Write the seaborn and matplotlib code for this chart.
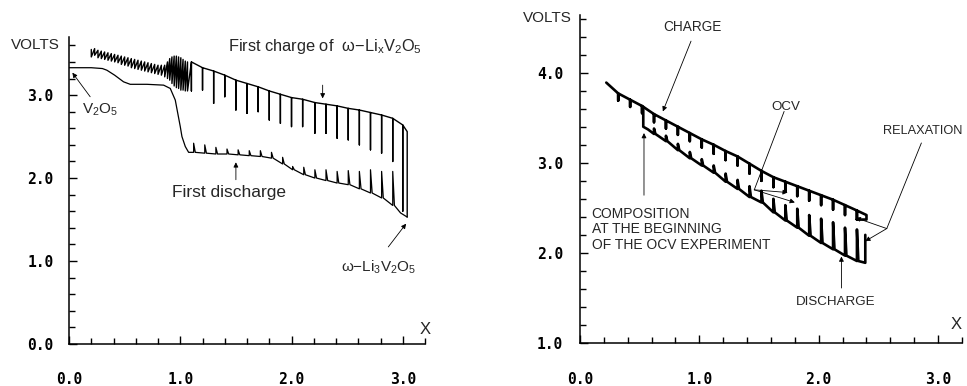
import numpy as np
import pandas as pd
import matplotlib
matplotlib.use("Agg")
import matplotlib.pyplot as plt
import seaborn as sns
from matplotlib.ticker import MultipleLocator

# ---------------- LEFT PANEL DATA ----------------
# first discharge: smooth part
dis_x = [0.00, 0.10, 0.20, 0.30, 0.34, 0.41, 0.49, 0.55, 0.70, 0.85, 0.91, 0.955, 1.00, 1.015, 1.045, 1.075, 1.10]
dis_v = [3.33, 3.33, 3.33, 3.32, 3.30, 3.24, 3.16, 3.13, 3.13, 3.12, 3.08, 2.94, 2.62, 2.50, 2.38, 2.31, 2.31]
# first discharge: relaxation spikes
dspk_x = [1.12, 1.22, 1.32, 1.42, 1.52, 1.62, 1.72, 1.82, 1.92, 2.01, 2.11, 2.21, 2.31, 2.41, 2.51, 2.61, 2.71, 2.81, 2.91]
dspk_base = [2.31, 2.30, 2.29, 2.29, 2.28, 2.27, 2.26, 2.24, 2.17, 2.10, 2.04, 2.00, 1.97, 1.94, 1.92, 1.87, 1.82, 1.76, 1.67]
dspk_top = [2.42, 2.40, 2.37, 2.35, 2.34, 2.33, 2.33, 2.31, 2.25, 2.14, 2.13, 2.10, 2.10, 2.08, 2.09, 2.08, 2.10, 2.08, 2.08]
dis_end_x = [2.98, 3.04]
dis_end_v = [1.58, 1.53]

# first charge: dense zig-zag region
zig_x = [0.20, 0.23, 0.26, 0.29, 0.32, 0.35, 0.38, 0.41, 0.44, 0.47, 0.50, 0.53, 0.56, 0.59, 0.62, 0.65,
         0.68, 0.71, 0.74, 0.77, 0.80, 0.83, 0.86, 0.885, 0.905, 0.925, 0.945, 0.965, 0.985, 1.005, 1.025,
         1.045, 1.065]
zig_top = [3.55, 3.56, 3.54, 3.53, 3.52, 3.51, 3.50, 3.49, 3.48, 3.47, 3.46, 3.45, 3.44, 3.43, 3.42, 3.41,
           3.40, 3.39, 3.38, 3.37, 3.36, 3.36, 3.36, 3.40, 3.44, 3.46, 3.47, 3.47, 3.46, 3.45, 3.43,
           3.41, 3.40]
zig_bot = [3.46, 3.48, 3.45, 3.44, 3.43, 3.42, 3.41, 3.40, 3.39, 3.37, 3.36, 3.35, 3.33, 3.32, 3.31, 3.30,
           3.29, 3.28, 3.27, 3.26, 3.25, 3.24, 3.22, 3.20, 3.18, 3.14, 3.11, 3.09, 3.08, 3.06, 3.06,
           3.05, 3.05]
# first charge: relaxation pulses
chg_x = [1.10, 1.20, 1.30, 1.40, 1.50, 1.60, 1.70, 1.80, 1.90, 2.00, 2.10, 2.21, 2.31, 2.41, 2.51, 2.61, 2.71, 2.81, 2.91, 3.00]
chg_top = [3.40, 3.33, 3.29, 3.24, 3.18, 3.14, 3.10, 3.05, 3.01, 2.97, 2.95, 2.91, 2.89, 2.87, 2.84, 2.82, 2.79, 2.76, 2.72, 2.64]
chg_bot = [3.05, 3.06, 2.90, 2.98, 2.82, 2.78, 2.80, 2.70, 2.66, 2.62, 2.62, 2.54, 2.54, 2.48, 2.46, 2.40, 2.34, 2.30, 2.20, 1.60]
chg_end_x = [3.04, 3.04]
chg_end_v = [2.56, 1.53]

# ---------------- RIGHT PANEL DATA ----------------
r_start_x = [0.22]
r_start_v = [3.89]
rup_x = [0.32, 0.42, 0.52, 0.62, 0.72, 0.82, 0.92, 1.02, 1.12, 1.22, 1.32, 1.42, 1.52, 1.62, 1.72, 1.82, 1.92, 2.02, 2.12, 2.22, 2.32]
rup_top = [3.77, 3.70, 3.63, 3.54, 3.47, 3.40, 3.33, 3.26, 3.20, 3.13, 3.07, 2.99, 2.91, 2.84, 2.79, 2.74, 2.69, 2.64, 2.59, 2.53, 2.47]
rup_bot = [3.69, 3.62, 3.55, 3.45, 3.38, 3.31, 3.24, 3.17, 3.10, 3.03, 2.97, 2.88, 2.80, 2.73, 2.68, 2.63, 2.58, 2.53, 2.48, 2.42, 2.37]
rup_end_x = [2.40, 2.40, 2.32]
rup_end_v = [2.42, 2.37, 2.37]

rlo_start_x = [0.53, 0.53, 0.57]
rlo_start_v = [3.62, 3.40, 3.37]
rlo_x = [0.62, 0.72, 0.82, 0.92, 1.02, 1.12, 1.22, 1.32, 1.42, 1.52, 1.62, 1.72, 1.82, 1.92, 2.02, 2.12, 2.22, 2.32]
rlo_base = [3.32, 3.24, 3.14, 3.05, 2.97, 2.89, 2.79, 2.71, 2.62, 2.56, 2.45, 2.36, 2.28, 2.19, 2.11, 2.04, 1.97, 1.91]
rlo_top = [3.38, 3.30, 3.21, 3.12, 3.04, 2.97, 2.88, 2.81, 2.74, 2.69, 2.60, 2.53, 2.49, 2.42, 2.38, 2.34, 2.28, 2.26]
rlo_end_x = [2.39, 2.39]
rlo_end_v = [1.89, 2.20]

x_ticks = [0, 1, 2, 3]
x_tick_labels = ["0.0", "1.0", "2.0", "3.0"]
yl_ticks = [0, 1, 2, 3]
yl_tick_labels = ["0.0", "1.0", "2.0", "3.0"]
yr_ticks = [1, 2, 3, 4]
yr_tick_labels = ["1.0", "2.0", "3.0", "4.0"]


def pulses_down(xs, tops, bots):
    px, pv = [], []
    for x, t, b in zip(xs, tops, bots):
        px += [x, x, x]
        pv += [t, b, t]
    return px, pv


def zigzag(xs, tops, bots):
    px, pv = [], []
    for x, t, b in zip(xs, tops, bots):
        px += [x, x]
        pv += [t, b]
    return px, pv


def spikes_up(xs, bases, tops, dx):
    px, pv = [], []
    for x, b, t in zip(xs, bases, tops):
        px += [x, x, x + dx]
        pv += [b, t, b]
    return px, pv


sns.set_theme(style="ticks")
plt.rcParams["font.family"] = ["Liberation Sans", "DejaVu Sans"]
plt.rcParams["mathtext.fontset"] = "custom"
plt.rcParams["mathtext.rm"] = "Liberation Sans"
plt.rcParams["mathtext.it"] = "Liberation Sans:italic"
plt.rcParams["mathtext.bf"] = "Liberation Sans:bold"

fig = plt.figure(figsize=(9.67, 3.86), dpi=100, facecolor="white")
axL = fig.add_axes([0.0714, 0.1088, 0.3681, 0.7953])
axR = fig.add_axes([0.5998, 0.1114, 0.3950, 0.8497])

# ---- left curves ----
sx, sv = spikes_up(dspk_x, dspk_base, dspk_top, 0.015)
dfx = dis_x + sx + dis_end_x
dfv = dis_v + sv + dis_end_v
sns.lineplot(x=dfx, y=dfv, sort=False, estimator=None, color="black", linewidth=0.9, ax=axL)

zx, zv = zigzag(zig_x, zig_top, zig_bot)
cx, cv = pulses_down(chg_x, chg_top, chg_bot)
cfx = zx + cx + chg_end_x
cfv = zv + cv + chg_end_v
sns.lineplot(x=cfx, y=cfv, sort=False, estimator=None, color="black", linewidth=1.0, ax=axL)

# ---- right curves ----
ux, uv = pulses_down(rup_x, rup_top, rup_bot)
sns.lineplot(x=r_start_x + ux + rup_end_x, y=r_start_v + uv + rup_end_v, sort=False,
             estimator=None, color="black", linewidth=1.9, ax=axR)
lx, lv = spikes_up(rlo_x, rlo_base, rlo_top, 0.012)
sns.lineplot(x=rlo_start_x + lx + rlo_end_x, y=rlo_start_v + lv + rlo_end_v, sort=False,
             estimator=None, color="black", linewidth=1.9, ax=axR)

# ---- axes styling ----
for ax, ylim, yt, ytl in [(axL, (0, 3.7), yl_ticks, yl_tick_labels),
                          (axR, (1.0, 4.64), yr_ticks, yr_tick_labels)]:
    ax.set_xlim(0, 3.2)
    ax.set_ylim(*ylim)
    ax.set_facecolor("white")
    for s in ["top", "right"]:
        ax.spines[s].set_visible(False)
    for s in ["left", "bottom"]:
        ax.spines[s].set_linewidth(1.1)
        ax.spines[s].set_color("black")
    ax.set_xticks(x_ticks)
    ax.set_xticklabels(x_tick_labels)
    ax.set_yticks(yt)
    ax.set_yticklabels(ytl)
    ax.xaxis.set_minor_locator(MultipleLocator(0.2))
    ax.yaxis.set_minor_locator(MultipleLocator(0.2))
    ax.tick_params(axis="both", which="both", direction="in", color="black", width=1.0)
    ax.tick_params(axis="both", which="major", length=6)
    ax.tick_params(axis="both", which="minor", length=4)
    ax.set_xlabel("")
    ax.set_ylabel("")
    for lab in ax.get_xticklabels() + ax.get_yticklabels():
        lab.set_fontfamily("DejaVu Sans Mono")
        lab.set_fontsize(10.5)
        lab.set_fontweight("bold")
        lab.set_color("black")

axL.tick_params(axis="x", which="major", pad=20)
axL.tick_params(axis="y", which="major", pad=11)
axR.tick_params(axis="x", which="major", pad=21)
axR.tick_params(axis="y", which="major", pad=12)

arrow = dict(arrowstyle="-|>", color="black", lw=0.6, mutation_scale=7, shrinkA=0, shrinkB=0)
line = dict(arrowstyle="-", color="black", lw=0.6, shrinkA=0, shrinkB=0)

# ---- left annotations ----
axL.text(-0.08, 3.60, "VOLTS", ha="right", va="center", fontsize=11, clip_on=False)
axL.text(3.20, 0.17, "X", ha="center", va="center", fontsize=12, clip_on=False)
axL.text(1.43, 3.58, "First charge of  ω−Li$_\\mathrm{x}$V$_2$O$_5$", ha="left", va="center", fontsize=11.8)
axL.annotate("", xy=(2.28, 2.96), xytext=(2.28, 3.12), arrowprops=arrow)
axL.text(0.12, 2.82, "V$_2$O$_5$", ha="left", va="center", fontsize=11)
axL.annotate("", xy=(0.03, 3.27), xytext=(0.19, 2.98), arrowprops=arrow)
axL.text(1.44, 1.83, "First discharge", ha="center", va="center", fontsize=12.5)
axL.annotate("", xy=(1.50, 2.19), xytext=(1.50, 1.98), arrowprops=arrow)
axL.text(2.78, 0.93, "ω−Li$_3$V$_2$O$_5$", ha="center", va="center", fontsize=11)
axL.annotate("", xy=(3.03, 1.45), xytext=(2.87, 1.17), arrowprops=arrow)

# ---- right annotations ----
axR.text(-0.07, 4.61, "VOLTS", ha="right", va="center", fontsize=11, clip_on=False)
axR.text(3.15, 1.20, "X", ha="center", va="center", fontsize=12, clip_on=False)
axR.text(0.944, 4.51, "CHARGE", ha="center", va="center", fontsize=9.8)
axR.annotate("", xy=(0.694, 3.57), xytext=(0.93, 4.35), arrowprops=arrow)
axR.text(1.72, 3.62, "OCV", ha="center", va="center", fontsize=9.6)
axR.annotate("", xy=(1.46, 2.70), xytext=(1.71, 3.57), arrowprops=line)
axR.annotate("", xy=(1.74, 2.67), xytext=(1.46, 2.70), arrowprops=arrow)
axR.annotate("", xy=(1.80, 2.56), xytext=(1.46, 2.70), arrowprops=arrow)
axR.text(2.87, 3.35, "RELAXATION", ha="center", va="center", fontsize=9.2, clip_on=False)
axR.annotate("", xy=(2.57, 2.27), xytext=(2.86, 3.22), arrowprops=line)
axR.annotate("", xy=(2.31, 2.39), xytext=(2.57, 2.27), arrowprops=arrow)
axR.annotate("", xy=(2.39, 2.13), xytext=(2.57, 2.27), arrowprops=arrow)
axR.text(0.097, 2.26, "COMPOSITION\nAT THE BEGINNING\nOF THE OCV EXPERIMENT", ha="left", va="center",
         fontsize=10, linespacing=1.15)
axR.annotate("", xy=(0.536, 3.33), xytext=(0.536, 2.64), arrowprops=arrow)
axR.text(2.14, 1.46, "DISCHARGE", ha="center", va="center", fontsize=9.6)
axR.annotate("", xy=(2.19, 1.96), xytext=(2.19, 1.61), arrowprops=arrow)

fig.savefig("out.png", dpi=100, facecolor="white")
